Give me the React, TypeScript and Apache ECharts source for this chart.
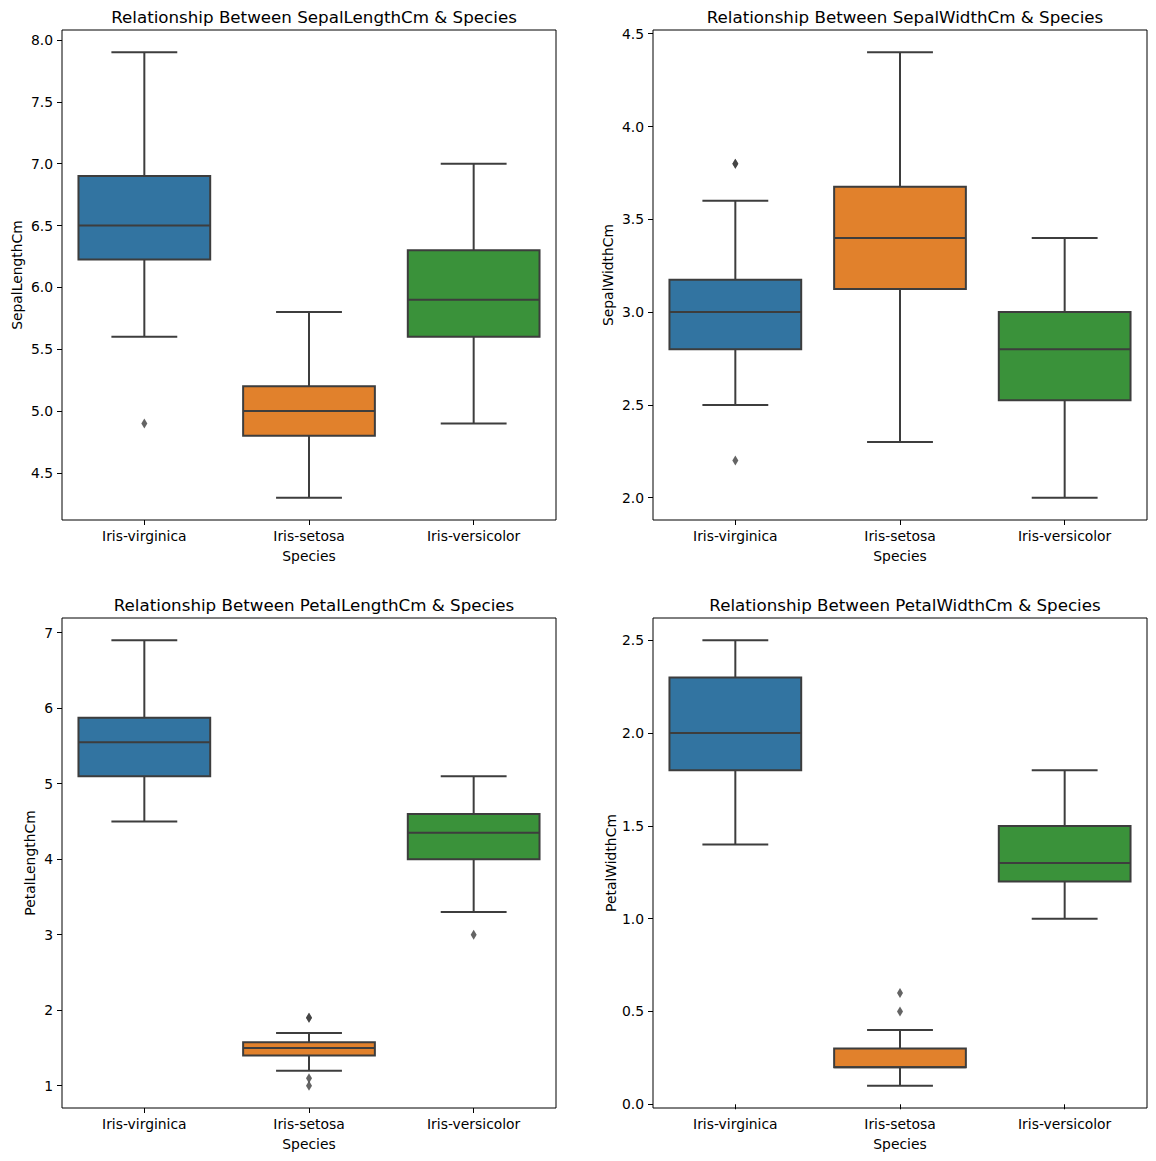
import React, { useEffect, useRef } from 'react';
import * as echarts from 'echarts';

const species = ['Iris-virginica', 'Iris-setosa', 'Iris-versicolor'];
const boxColors = ['#3274a1', '#e1812c', '#3a923a'];
const lineColor = '#3d3d3d';

// [whisker low, Q1, median, Q3, whisker high] per species
const sepalLengthBoxes = [
  [5.6, 6.225, 6.5, 6.9, 7.9],
  [4.3, 4.8, 5.0, 5.2, 5.8],
  [4.9, 5.6, 5.9, 6.3, 7.0],
];
const sepalLengthOutliers = [[0, 4.9]];
const sepalLengthTicks = [4.5, 5.0, 5.5, 6.0, 6.5, 7.0, 7.5, 8.0];

const sepalWidthBoxes = [
  [2.5, 2.8, 3.0, 3.175, 3.6],
  [2.3, 3.125, 3.4, 3.675, 4.4],
  [2.0, 2.525, 2.8, 3.0, 3.4],
];
const sepalWidthOutliers = [[0, 3.8], [0, 3.8], [0, 2.2]];
const sepalWidthTicks = [2.0, 2.5, 3.0, 3.5, 4.0, 4.5];

const petalLengthBoxes = [
  [4.5, 5.1, 5.55, 5.875, 6.9],
  [1.2, 1.4, 1.5, 1.575, 1.7],
  [3.3, 4.0, 4.35, 4.6, 5.1],
];
const petalLengthOutliers = [[1, 1.9], [1, 1.9], [1, 1.1], [1, 1.0], [2, 3.0]];
const petalLengthTicks = [1, 2, 3, 4, 5, 6, 7];

const petalWidthBoxes = [
  [1.4, 1.8, 2.0, 2.3, 2.5],
  [0.1, 0.2, 0.2, 0.3, 0.4],
  [1.0, 1.2, 1.3, 1.5, 1.8],
];
const petalWidthOutliers = [[1, 0.5], [1, 0.6]];
const petalWidthTicks = [0.0, 0.5, 1.0, 1.5, 2.0, 2.5];

const panels = [
  { name: 'SepalLengthCm', boxes: sepalLengthBoxes, outliers: sepalLengthOutliers, ticks: sepalLengthTicks, decimals: 1 },
  { name: 'SepalWidthCm', boxes: sepalWidthBoxes, outliers: sepalWidthOutliers, ticks: sepalWidthTicks, decimals: 1 },
  { name: 'PetalLengthCm', boxes: petalLengthBoxes, outliers: petalLengthOutliers, ticks: petalLengthTicks, decimals: 0 },
  { name: 'PetalWidthCm', boxes: petalWidthBoxes, outliers: petalWidthOutliers, ticks: petalWidthTicks, decimals: 1 },
];

const FONT = 'DejaVu Sans';
const gridLefts = [62, 653];
const gridTops = [30, 618];
const GW = 494;
const GH = 490;

export default function App() {
  const ref = useRef<HTMLDivElement>(null);

  useEffect(() => {
    if (!ref.current) return;
    const chart = echarts.init(ref.current, null, { renderer: 'svg' });

    const grids: any[] = [];
    const xAxes: any[] = [];
    const yAxes: any[] = [];
    const titles: any[] = [];
    const series: any[] = [];

    panels.forEach((p, i) => {
      const left = gridLefts[i % 2];
      const top = gridTops[Math.floor(i / 2)];
      grids.push({
        left, top, width: GW, height: GH,
        show: true, borderColor: '#000', borderWidth: 1, backgroundColor: '#fff',
        containLabel: false,
      });
      titles.push({
        text: `Relationship Between ${p.name} & Species`,
        left: left + GW / 2,
        top: top - 27,
        textAlign: 'center',
        textStyle: { fontFamily: FONT, fontSize: 16.7, fontWeight: 'normal', color: '#000' },
      });
      const all: number[] = [];
      p.boxes.forEach((b) => all.push(b[0], b[4]));
      p.outliers.forEach((o) => all.push(o[1]));
      const lo = Math.min(...all);
      const hi = Math.max(...all);
      const pad = (hi - lo) * 0.05;
      xAxes.push({
        type: 'category',
        gridIndex: i,
        data: species,
        boundaryGap: true,
        name: 'Species',
        nameLocation: 'middle',
        nameGap: 29,
        nameTextStyle: { fontFamily: FONT, fontSize: 13.9, color: '#000' },
        axisLine: { show: false },
        axisTick: { show: true, alignWithLabel: true, length: 5, lineStyle: { color: '#000', width: 1 } },
        axisLabel: { fontFamily: FONT, fontSize: 13.9, color: '#000', margin: 9 },
        splitLine: { show: false },
      });
      yAxes.push({
        type: 'value',
        gridIndex: i,
        min: lo - pad,
        max: hi + pad,
        name: p.name,
        nameLocation: 'middle',
        nameGap: i >= 2 ? 25 : 38,
        nameTextStyle: { fontFamily: FONT, fontSize: 13.9, color: '#000' },
        axisLine: { show: false },
        axisTick: { show: true, length: 5, customValues: p.ticks, lineStyle: { color: '#000', width: 1 } },
        axisLabel: {
          fontFamily: FONT, fontSize: 13.9, color: '#000', margin: 9,
          customValues: p.ticks,
          formatter: (v: number) => v.toFixed(p.decimals),
        },
        splitLine: { show: false },
      });
      series.push({
        type: 'custom',
        xAxisIndex: i,
        yAxisIndex: i,
        data: p.boxes.map((b, k) => [k, ...b]),
        encode: { x: 0, y: [1, 2, 3, 4, 5] },
        renderItem: (params: any, api: any) => {
          const k = api.value(0);
          const band = api.size([1, 0])[0];
          const half = band * 0.4;
          const cap = band * 0.2;
          const pMin = api.coord([k, api.value(1)]);
          const pQ1 = api.coord([k, api.value(2)]);
          const pMed = api.coord([k, api.value(3)]);
          const pQ3 = api.coord([k, api.value(4)]);
          const pMax = api.coord([k, api.value(5)]);
          const cx = pMed[0];
          const ls = { stroke: lineColor, lineWidth: 2 };
          return {
            type: 'group',
            children: [
              { type: 'line', shape: { x1: cx, y1: pQ1[1], x2: cx, y2: pMin[1] }, style: ls },
              { type: 'line', shape: { x1: cx, y1: pQ3[1], x2: cx, y2: pMax[1] }, style: ls },
              { type: 'line', shape: { x1: cx - cap, y1: pMin[1], x2: cx + cap, y2: pMin[1] }, style: ls },
              { type: 'line', shape: { x1: cx - cap, y1: pMax[1], x2: cx + cap, y2: pMax[1] }, style: ls },
              {
                type: 'rect',
                shape: { x: cx - half, y: pQ3[1], width: half * 2, height: pQ1[1] - pQ3[1] },
                style: { fill: boxColors[k], stroke: lineColor, lineWidth: 2 },
              },
              { type: 'line', shape: { x1: cx - half, y1: pMed[1], x2: cx + half, y2: pMed[1] }, style: ls },
            ],
          };
        },
        z: 2,
      });
      series.push({
        type: 'scatter',
        xAxisIndex: i,
        yAxisIndex: i,
        data: p.outliers,
        symbol: 'diamond',
        symbolSize: [6, 10],
        itemStyle: { color: lineColor },
        z: 3,
      });
    });

    chart.setOption({
      animation: false,
      backgroundColor: '#fff',
      title: titles,
      grid: grids,
      xAxis: xAxes,
      yAxis: yAxes,
      series,
    });

    return () => chart.dispose();
  }, []);

  return (
    <div
      ref={ref}
      style={{ position: 'absolute', left: 0, top: 0, width: 1156, height: 1161 }}
    />
  );
}
